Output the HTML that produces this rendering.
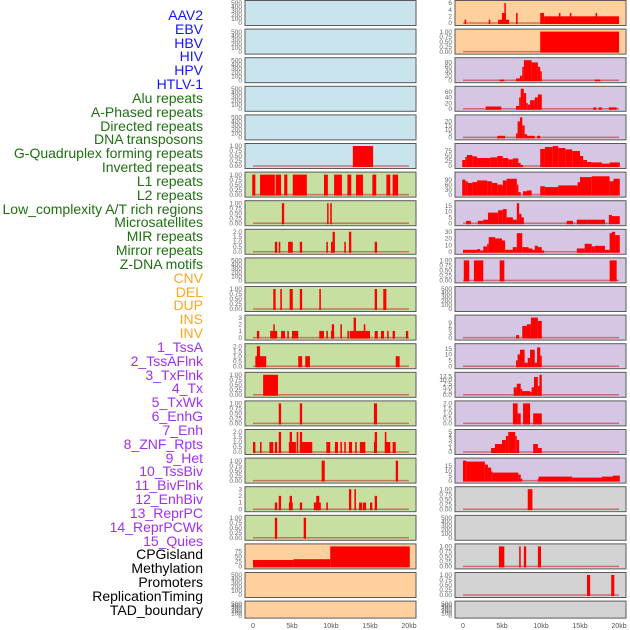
<!DOCTYPE html>
<html><head><meta charset="utf-8">
<style>
html,body{margin:0;padding:0;background:#fff;}
body{width:630px;height:630px;overflow:hidden;position:relative;font-family:"Liberation Sans",sans-serif;}
.lbl{position:absolute;right:427px;font-size:14px;line-height:14px;white-space:nowrap;}
</style></head>
<body>
<div id="labels"></div>
<svg id="chart" width="630" height="630" style="position:absolute;left:0;top:0"></svg>
<script>
const trackNames = ["AAV2","EBV","HBV","HIV","HPV","HTLV-1","Alu repeats","A-Phased repeats","Directed repeats","DNA transposons","G-Quadruplex forming repeats","Inverted repeats","L1 repeats","L2 repeats","Low_complexity A/T rich regions","Microsatellites","MIR repeats","Mirror repeats","Z-DNA motifs","CNV","DEL","DUP","INS","INV","1_TssA","2_TssAFlnk","3_TxFlnk","4_Tx","5_TxWk","6_EnhG","7_Enh","8_ZNF_Rpts","9_Het","10_TssBiv","11_BivFlnk","12_EnhBiv","13_ReprPC","14_ReprPCWk","15_Quies","CPGisland","Methylation","Promoters","ReplicationTiming","TAD_boundary"];
const trackColors = ["#1414ff","#1414ff","#1414ff","#1414ff","#1414ff","#1414ff","#1e7010","#1e7010","#1e7010","#1e7010","#1e7010","#1e7010","#1e7010","#1e7010","#1e7010","#1e7010","#1e7010","#1e7010","#1e7010","#ffa520","#ffa520","#ffa520","#ffa520","#ffa520","#a030f0","#a030f0","#a030f0","#a030f0","#a030f0","#a030f0","#a030f0","#a030f0","#a030f0","#a030f0","#a030f0","#a030f0","#a030f0","#a030f0","#a030f0","#000","#000","#000","#000","#000"];
const xTicks = [0,5,10,15,20];
const xTickLabels = ["0","5kb","10kb","15kb","20kb"];
const panelBg = ["#c9e4ec","#c9e4ec","#c9e4ec","#c9e4ec","#c9e4ec","#c9e4ec","#c7e0a2","#c7e0a2","#c7e0a2","#c7e0a2","#c7e0a2","#c7e0a2","#c7e0a2","#c7e0a2","#c7e0a2","#c7e0a2","#c7e0a2","#c7e0a2","#c7e0a2","#fed09e","#fed09e","#fed09e",
"#fed09e","#fed09e","#d5c6e3","#d5c6e3","#d5c6e3","#d5c6e3","#d5c6e3","#d5c6e3","#d5c6e3","#d5c6e3","#d5c6e3","#d5c6e3","#d5c6e3","#d5c6e3","#d5c6e3","#d5c6e3","#d5c6e3","#d3d3d3","#d3d3d3","#d3d3d3","#d3d3d3","#d3d3d3"];
const E=[0,100,200,300,400,500], U=[0,0.25,0.5,0.75,1];
const panelMax = [500,500,500,500,500,1,1,1,2,500,1,3,2,1,1,2,1,3,1,100,500,500,
6,1,90,70,25,100,120,17,30,1,500,12,17,13.5,2,5,20,1,500,1,1,500];
const panelTicks = [E,E,E,E,E,U,U,U,[0,0.5,1,1.5,2],E,U,[0,1,2,3],[0,0.5,1,1.5,2],U,U,[0,0.5,1,1.5,2],U,[0,1,2,3],U,[0,25,50,75],E,E,
[0,2,4,6],U,[0,20,40,60,80],[0,20,40,60],[0,5,10,15,20],[0,25,50,75],[0,30,60,90],[0,5,10,15],[0,10,20,30],U,E,[0,3,6,9],[0,5,10,15],[0,2.5,5,7.5,10,12.5],[0,0.5,1,1.5,2],[0,1,2,3,4,5],[0,5,10,15],U,E,U,U,E];
const panelSegments = [
[],[],[],[],[],
[[12.8,15.4,1]],
[[-0.1,0.3,1],[0.9,2.8,1],[2.9,3.6,1],[4.0,4.4,1],[5.1,6.9,1],[9.1,9.6,1],[10.4,11.4,1],[12.1,12.6,1],[13.2,14.1,1],[15.3,15.8,1],[17.1,17.6,1],[17.9,18.6,1]],
[[3.7,4.0,1],[9.5,9.6,1],[9.9,10.1,1]],
[[2.8,3.1,1],[3.3,3.5,1],[4.5,5.1,1],[6.0,6.3,1],[9.4,9.6,1],[10.0,10.3,1],[10.2,10.5,2],[11.7,11.9,1],[12.3,12.6,2],[15.6,15.9,1]],
[],
[[2.6,2.9,1],[3.5,3.7,1],[4.7,5.1,1],[6.0,6.3,1],[8.5,8.7,1],[15.6,15.9,1],[16.7,17.1,1]],
[[0.5,0.8,1],[2.2,3.1,1],[2.6,2.7,2],[3.6,4.1,1],[4.4,4.5,1],[5.0,5.8,1],[8.5,9.1,1],[9.4,9.6,1],[10.0,10.4,1],[10.1,10.4,2],[11.2,11.4,2],[12.1,12.3,1],[12.4,15.0,1],[12.9,13.2,3],[14.2,14.4,2],[15.6,16.0,1],[16.4,16.8,1],[17.2,17.3,1],[17.9,18.2,1],[19.6,19.9,1]],
[[0.3,1.7,1],[0.5,0.9,2],[5.8,6.3,1],[6.7,7.3,1],[18.3,18.8,1]],
[[1.3,3.2,1]],
[[3.3,3.6,1],[6.0,6.3,1],[15.5,15.9,1]],
[[0,0.3,1],[0.9,1.1,1],[2.1,2.6,1],[2.8,3.1,1],[3.3,3.6,2],[4.6,5.5,1],[4.7,5.0,2],[5.6,5.8,2],[6.0,7.6,1],[6.0,6.3,2],[9.4,9.9,1],[10.5,10.9,1],[11.2,11.4,1],[11.7,11.9,1],[12.3,12.7,1],[13.1,13.3,1],[13.7,14.4,1],[15.5,15.9,1],[15.6,15.9,2],[16.9,17.6,1],[16.9,17.1,2],[17.9,18.3,1]],
[[8.8,9.2,1],[18.3,18.6,1]],
[[2.8,3.1,1],[3.3,3.6,2],[4.6,5.1,1],[4.7,5.0,2],[6.0,6.3,1],[7.8,8.7,1],[8.1,8.5,2],[9.4,9.6,1],[12.3,12.6,3],[13.0,13.2,3],[13.6,14.0,1],[14.1,14.5,1],[15.0,15.3,1],[15.6,15.9,2]],
[[2.8,3.1,1],[6.5,6.8,1]],
[[0,5.2,32],[5.2,9.9,36],[9.9,20.1,100]],
[],[],
[[0.2,0.4,1],[3.3,3.5,1],[4.5,4.7,1],[4.7,5.9,1],[5.0,5.5,3],[5.3,5.4,6],[6.8,7.0,3],[9.9,10.4,3],[10.4,20.0,2],[12.3,12.4,3],[13.7,13.9,3],[17.0,17.2,3]],
[[9.9,20,1]],
[[4.7,5.3,3],[6.8,7.3,8],[7.3,7.6,20],[7.6,7.8,60],[7.8,8.8,90],[8.8,9.6,80],[9.6,9.9,60],[9.9,10.1,40],[16.9,17.6,3]],
[[2.9,4.9,8],[6.8,7.2,10],[7.2,7.4,40],[7.4,7.8,70],[7.8,8.1,55],[8.1,8.3,20],[8.3,8.6,15],[8.6,9.2,30],[9.2,9.6,40],[9.6,10.1,50],[16.7,17.1,5],[17.4,17.8,5],[18.7,19.7,5]],
[[4.4,5.4,2],[6.8,7.0,5],[7.0,7.3,20],[7.3,7.6,25],[7.6,7.9,15],[7.9,8.2,4],[8.2,9.2,2],[9.5,9.9,2]],
[[-0.1,0.3,30],[0.3,0.5,45],[0.5,1.2,55],[1.2,1.8,48],[1.8,3.5,40],[3.5,4.4,43],[4.4,5.1,50],[5.1,5.8,40],[5.8,6.4,33],[6.4,7.1,38],[7.1,7.4,15],[7.4,7.7,5],[9.9,10.5,85],[10.5,11.5,95],[11.5,12.2,100],[12.2,13.1,90],[13.1,14.0,83],[14.0,15.0,75],[15.0,15.4,50],[15.4,15.9,30],[15.9,16.5,20],[16.5,17.8,18],[17.8,18.8,12],[18.8,20.1,18]],
[[-0.1,0.3,90],[0.3,0.6,80],[0.6,1.2,70],[1.2,1.8,75],[1.8,3.1,85],[3.1,3.7,80],[3.7,4.4,70],[4.4,5.0,60],[5.0,5.1,55],[5.1,5.6,85],[5.6,6.9,95],[6.9,7.1,60],[7.1,7.4,15],[7.7,8.2,20],[8.2,8.8,25],[9.9,10.5,50],[10.5,12.2,45],[12.2,14.7,55],[14.7,15.0,75],[15.0,16.5,105],[16.5,18.8,110],[18.8,19.3,80],[19.3,20.1,95]],
[[0.4,1.0,2],[1.9,2.6,2],[2.6,3.2,3],[3.2,4.5,9],[4.5,5.1,11],[5.1,5.6,12],[5.6,6.4,5],[6.4,6.9,3],[6.9,7.2,17],[7.2,7.5,8],[7.5,7.8,5],[13.3,14.1,2],[14.6,16.0,3],[16.0,18.2,3],[18.7,19.1,7],[19.1,20.1,6]],
[[0,1.8,3],[1.8,2.2,4],[2.2,2.6,2],[2.6,3.1,8],[3.1,3.3,12],[3.3,4.1,22],[4.1,5.0,20],[5.0,5.4,17],[5.4,6.4,3],[6.4,6.9,7],[6.9,7.6,28],[7.6,8.4,7],[8.4,8.9,5],[8.9,9.2,3],[9.2,9.6,9],[9.6,10.1,7],[10.1,10.4,2],[14.6,15.6,5],[15.6,16.5,12],[16.5,16.9,8],[16.9,18.2,9],[18.2,18.8,3],[18.8,19.1,28],[19.1,19.5,30],[19.5,20.1,25]],
[[0.1,0.8,1],[1.4,2.6,1],[4.7,5.3,1],[18.8,19.7,1]],
[],
[[6.8,7.2,1.5],[7.6,8.2,7],[8.2,8.7,8],[8.7,9.6,12],[9.6,10.1,10]],
[[6.8,7.0,5],[7.0,7.3,10],[7.3,7.9,14],[7.9,8.3,3],[8.3,8.6,7],[8.6,9.2,14],[9.2,9.5,3],[9.5,9.9,16],[9.9,10.1,9]],
[[6.5,6.9,5],[6.9,7.4,7.5],[7.4,7.5,4],[7.5,8.6,2.5],[8.6,8.8,2],[8.8,9.1,5],[9.1,9.6,12],[9.6,9.8,6],[9.8,10.1,13.5]],
[[6.4,7.0,2],[7.0,7.4,1],[7.7,8.6,2],[9.0,10.1,1]],
[[3.6,4.1,1],[4.1,5.0,2],[5.0,5.5,3],[5.5,5.8,4],[5.8,6.7,5],[6.7,6.9,4],[6.9,7.2,3],[9.0,9.6,2],[9.6,10.1,1]],
[[0,0.4,20],[0.4,2.8,19],[2.8,3.2,16],[3.2,3.6,13],[3.6,3.8,9],[3.8,7.1,8],[7.1,7.4,6],[7.4,7.5,2],[9.6,9.7,2],[9.7,14.0,4],[14.0,17.8,3],[17.8,19.2,4],[19.2,20.1,5]],
[[8.3,8.9,1]],
[],
[[4.6,5.3,1],[7.2,7.4,1],[7.8,8.1,1],[9.6,10.0,1]],
[[15.9,16.3,1],[19.0,19.4,1]],
[]
];
const NS='http://www.w3.org/2000/svg';
const svg=document.getElementById('chart');
function mk(tag,attrs,parent){const e=document.createElementNS(NS,tag);for(const k in attrs)e.setAttribute(k,attrs[k]);(parent||svg).appendChild(e);return e;}
// labels
const lab=document.getElementById('labels');
trackNames.forEach((n,i)=>{
  const d=document.createElement('div');
  d.className='lbl';
  
  
  d.style.top=(8+i*13.83)+'px';
  d.style.color=trackColors[i];
  d.textContent=n;
  lab.appendChild(d);
});
const colX=[245,455], panelW=171;
function xScale(col,kb){return colX[col]+8+kb*7.8;}
function fmt(t,ticks){const m=ticks[ticks.length-1];if(m===1)return t.toFixed(2);if(m===2||m===12.5)return t.toFixed(1);return String(t);}
for(let p=0;p<44;p++){
  const col=p<22?0:1, row=p%22;
  const top=0.5+row*28.6, h=row===21?17:25;
  const g=mk('g',{});
  
  
  const bg=mk('rect',{x:colX[col],y:top,width:panelW,height:h,fill:panelBg[p],stroke:'#5a5a5a','stroke-width':1},g);
  
  
  const max=panelMax[p], ticks=panelTicks[p];
  const y0=top+h-2.5, y1=top+2.5;
  const yS=v=>y0-(v/max)*(y0-y1);
  const cid='c'+p;
  const cp=mk('clipPath',{id:cid},g);mk('rect',{x:colX[col],y:top,width:panelW,height:h},cp);
  const segs=panelSegments[p];
  if(segs.length){
    const bl=mk('line',{x1:xScale(col,0),x2:xScale(col,20),y1:y0,y2:y0,stroke:'#c03030','stroke-width':1.5,opacity:0.6},g);
    
    
  }
  segs.forEach(s=>{
    const x1=xScale(col,s[0]),x2=xScale(col,s[1]),yt=Math.max(yS(s[2]),top);
    const r=mk('rect',{x:x1,y:yt,width:Math.max(x2-x1,1.5),height:y0-yt+1,fill:'#ff0000','clip-path':'url(#'+cid+')'},g);
    
    
  });
  ticks.forEach(t=>{
    const tx=mk('text',{x:colX[col]-3,y:yS(t)+2.2,'font-size':6.5,fill:'#666','text-anchor':'end','font-family':'Liberation Sans, sans-serif'},g);
    
    
    tx.textContent=fmt(t,ticks);
  });
}
for(let col=0;col<2;col++){
  xTicks.forEach((t,i)=>{
    const tx=mk('text',{x:xScale(col,t),y:628,'font-size':7,fill:'#555','text-anchor':'middle','font-family':'Liberation Sans, sans-serif'});
    
    
    tx.textContent=xTickLabels[i];
  });
}
</script>
</body></html>
